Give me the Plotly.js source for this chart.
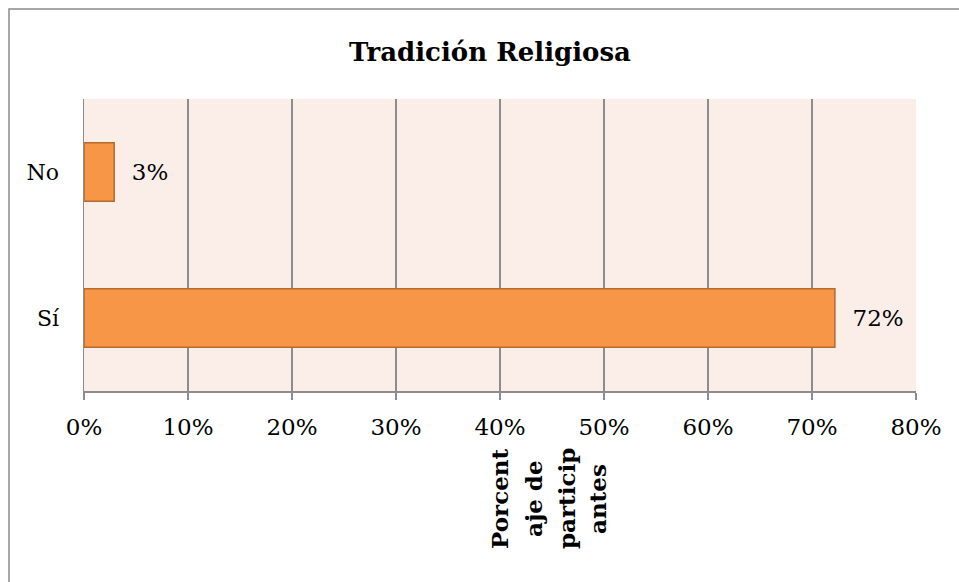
<!DOCTYPE html>
<html>
<head>
<meta charset="utf-8">
<script src="https://cdn.plot.ly/plotly-3.0.1.min.js"></script>
<style>
html,body{margin:0;padding:0;background:#fff;}
#chart{width:959px;height:582px;}
</style>
</head>
<body>
<div id="chart"></div>
<script>
// Data
const categories = ['Sí', 'No'];
const values = [0.722, 0.029];
const tickValues = [0, 0.1, 0.2, 0.3, 0.4, 0.5, 0.6, 0.7, 0.8];
const tickLabels = ['0%', '10%', '20%', '30%', '40%', '50%', '60%', '70%', '80%'];
const chartTitle = 'Tradición Religiosa';
const axisTitleLines = ['Porcent', 'aje de', 'particip', 'antes'];

const serif = '"DejaVu Serif", "Liberation Serif", serif';
const gridCol = '#8c8c8c';

// plot area in pixels: x 84..916, y 99..391
const L = 84, R = 916, T = 99, B = 391;
const W = R - L, H = B - T;
function px2x(p) { return (p - L) / W; }
function px2y(p) { return (B - p) / H; }

const trace = {
  type: 'bar',
  orientation: 'h',
  y: categories,
  x: values,
  width: 0.4,
  marker: { color: '#F79646', line: { color: '#B66A2C', width: 1.5 } },
  texttemplate: '\u00A0\u00A0%{x:.0%}',
  textposition: 'outside',
  cliponaxis: false,
  textfont: { family: serif, size: 23, color: '#000' },
  hoverinfo: 'none'
};

const lineX = [499, 533, 566, 597];
const annotations = axisTitleLines.map((t, i) => ({
  text: '<b>' + t + '</b>',
  xref: 'paper', yref: 'paper',
  x: px2x(lineX[i]), y: px2y(499),
  xanchor: 'center', yanchor: 'middle',
  textangle: -90,
  showarrow: false,
  font: { family: serif, size: 23, color: '#000' }
}));

const layout = {
  width: 959, height: 582,
  margin: { l: L, r: 959 - R, t: T, b: 582 - B, pad: 0 },
  paper_bgcolor: '#ffffff',
  plot_bgcolor: '#FBEDE8',
  showlegend: false,
  title: {
    text: '<b>' + chartTitle + '</b>',
    font: { family: serif, size: 26, color: '#000' },
    xref: 'paper', x: px2x(490), xanchor: 'center',
    yref: 'container', y: 1 - 52 / 582, yanchor: 'middle'
  },
  xaxis: {
    range: [0, 0.8],
    tickvals: tickValues,
    ticktext: tickLabels,
    showgrid: true, gridcolor: gridCol, gridwidth: 1.5,
    zeroline: false,
    showline: true, linecolor: gridCol, linewidth: 1.5,
    ticks: 'outside', ticklen: 7, tickcolor: gridCol, tickwidth: 1.5,
    ticklabelstandoff: 8,
    tickfont: { family: serif, size: 23, color: '#000' },
    fixedrange: true
  },
  yaxis: {
    type: 'category',
    categoryorder: 'array', categoryarray: categories,
    showgrid: false, zeroline: false,
    showline: true, linecolor: gridCol, linewidth: 1.5,
    ticks: '', ticklabelstandoff: 19,
    tickfont: { family: serif, size: 22, color: '#000' },
    fixedrange: true
  },
  annotations: annotations,
  shapes: [{
    type: 'rect', xref: 'paper', yref: 'paper',
    x0: px2x(9), x1: px2x(975), y0: px2y(600), y1: px2y(9),
    line: { color: '#8a8a8a', width: 1.5 }, fillcolor: 'rgba(0,0,0,0)', layer: 'below'
  }]
};

Plotly.newPlot('chart', [trace], layout, { displayModeBar: false, staticPlot: true });
</script>
</body>
</html>
